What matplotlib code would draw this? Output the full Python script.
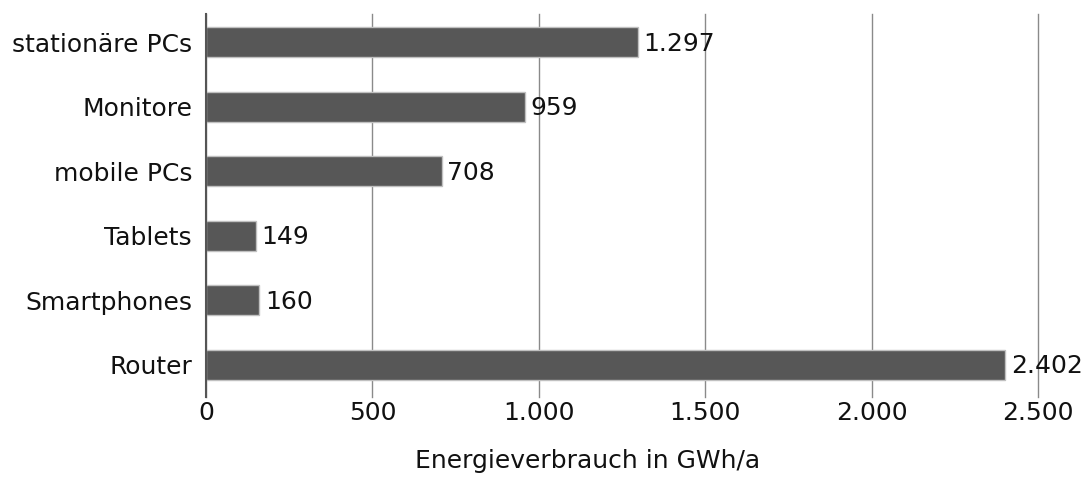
import matplotlib
matplotlib.use('Agg')
import matplotlib.pyplot as plt

# Daten (Energieverbrauch in GWh/a)
categories = ['stationäre PCs', 'Monitore', 'mobile PCs', 'Tablets', 'Smartphones', 'Router']
values = [1297, 959, 708, 149, 160, 2402]
xticks = [0, 500, 1000, 1500, 2000, 2500]


def de_format(v):
    return f'{v:,}'.replace(',', '.')


plt.rcParams['font.family'] = ['DejaVu Sans']
fig = plt.figure(figsize=(10.91, 4.8), dpi=100)
ax = fig.add_axes([0.1888, 0.1729, 0.7626, 0.7979])

pos = list(range(len(categories)))
ax.barh(pos, values, height=0.465, color='#575757', edgecolor='#c0c0c0', linewidth=1, zorder=3)

for p, v in zip(pos, values):
    ax.annotate(de_format(v), (v, p), xytext=(4, -1), textcoords='offset points',
                va='center', ha='left', fontsize=18, color='#111111', zorder=4)

ax.set_yticks(pos)
ax.set_yticklabels(categories, fontsize=18, color='#111111')
ax.set_ylim(len(categories) - 0.5, -0.44)
ax.set_xlim(0, 2500)
ax.set_xticks(xticks)
ax.set_xticklabels([de_format(t) for t in xticks], fontsize=18, color='#111111')

ax.tick_params(axis='y', length=0, pad=10)
ax.tick_params(axis='x', length=0, pad=3)
ax.grid(axis='x', color='#8a8a8a', linewidth=1, zorder=0)
ax.grid(axis='y', visible=False)
for gl in ax.get_xgridlines():
    gl.set_clip_on(False)
for s in ['top', 'right', 'bottom']:
    ax.spines[s].set_visible(False)
ax.spines['left'].set_color('#555555')
ax.spines['left'].set_linewidth(1.5)
ax.spines['left'].set_zorder(5)

ax.set_xlabel('Energieverbrauch in GWh/a', fontsize=18, color='#111111')
ax.xaxis.set_label_coords((588 - 206) / (1038 - 206), -0.136)

fig.savefig('out.png', dpi=100)
